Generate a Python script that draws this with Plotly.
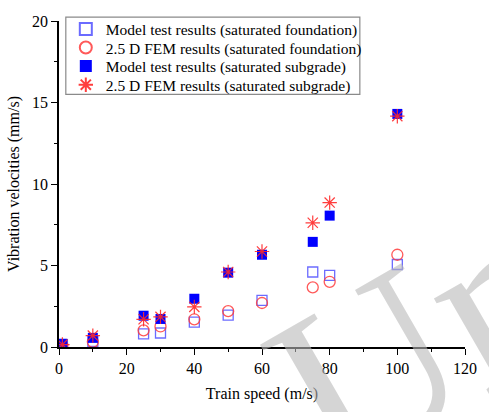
import plotly.graph_objects as go

speed = [1, 10, 25, 30, 40, 50, 60, 75, 80, 100]
model_found = [0.15, 0.35, 0.8, 0.86, 1.52, 1.96, 2.86, 4.6, 4.4, 5.06]
fem_found = [0.1, 0.32, 1.02, 1.26, 1.7, 2.2, 2.7, 3.66, 4.0, 5.66]
model_sub = [0.2, 0.56, 1.92, 1.72, 2.96, 4.56, 5.66, 6.45, 8.06, 14.3]
fem_sub = [0.15, 0.7, 1.7, 1.85, 2.46, 4.6, 5.86, 7.62, 8.86, 14.16]

names = ["Model test results (saturated foundation)",
         "2.5 D FEM results (saturated foundation)",
         "Model test results (saturated subgrade)",
         "2.5 D FEM results (saturated subgrade)"]

FONT = "Liberation Serif"

fig = go.Figure()
fig.add_trace(go.Scatter(x=speed, y=model_found, mode="markers", name=names[0], legend="legend",
                         marker=dict(symbol="square-open", size=10, color="rgba(70,70,255,0.8)",
                                     line=dict(width=1.3))))
fig.add_trace(go.Scatter(x=speed, y=fem_found, mode="markers", name=names[1], legend="legend2",
                         marker=dict(symbol="circle-open", size=11, color="rgba(255,60,60,0.85)",
                                     line=dict(width=1.3))))
fig.add_trace(go.Scatter(x=speed, y=model_sub, mode="markers", name=names[2], legend="legend3",
                         marker=dict(symbol="square", size=10, color="#0000ff")))
fig.add_trace(go.Scatter(x=speed, y=fem_sub, mode="markers", name=names[3], legend="legend4",
                         marker=dict(symbol="asterisk-open", size=12, color="rgba(255,40,40,0.9)",
                                     line=dict(width=1.2, color="rgba(255,40,40,0.9)"))))

# watermark
fig.add_annotation(text="Un", x=0.98, y=-0.12, xref="paper", yref="paper",
                   xanchor="right", yanchor="bottom", showarrow=False, textangle=-30,
                   xshift=160, yshift=-145,
                   font=dict(family=FONT, size=240, color="rgba(185,185,185,0.6)"))

axis_common = dict(showline=True, linecolor="black", linewidth=1.5, ticks="outside",
                   ticklen=6, tickwidth=1.3, tickcolor="black", showgrid=False, zeroline=False,
                   tickfont=dict(family=FONT, size=16, color="black"),
                   mirror=False)

fig.update_xaxes(range=[0, 120], tick0=0, dtick=20,
                 minor=dict(ticks="outside", ticklen=3, tickwidth=1.2, tickcolor="black", dtick=10, tick0=0),
                 title=dict(text="Train speed (m/s)", font=dict(family=FONT, size=16, color="black"),
                            standoff=12),
                 **axis_common)
fig.update_yaxes(range=[0, 20], tick0=0, dtick=5,
                 minor=dict(ticks="outside", ticklen=3, tickwidth=1.2, tickcolor="black", dtick=2.5, tick0=0),
                 title=dict(text="Vibration velocities (mm/s)", font=dict(family=FONT, size=16, color="black"),
                            standoff=8),
                 **axis_common)

PLOT_TOP, PLOT_H, PLOT_L, PLOT_W = 16, 333, 59, 417
def py(pix):
    return 1 - (pix - PLOT_TOP) / PLOT_H
def px(pix):
    return (pix - PLOT_L) / PLOT_W

leg_font = dict(family=FONT, size=15.5, color="black")
row_pix = [24.5, 43.5, 62.5, 81.5]
legends = {}
for i, key in enumerate(["legend", "legend2", "legend3", "legend4"]):
    legends[key] = dict(x=px(66), y=py(row_pix[i]), xanchor="left", yanchor="middle",
                        bgcolor="rgba(0,0,0,0)", borderwidth=0, font=leg_font,
                        itemsizing="constant")

fig.add_shape(type="rect", xref="paper", yref="paper",
              x0=px(66), x1=px(368), y0=py(91), y1=py(12),
              line=dict(color="#8a8a8a", width=1.2), fillcolor="rgba(0,0,0,0)")

fig.update_layout(
    width=489, height=412,
    margin=dict(l=59, r=13, t=16, b=63),
    plot_bgcolor="white", paper_bgcolor="white",
    font=dict(family=FONT, size=15, color="black"),
    showlegend=True,
    **legends,
)

fig.write_html("out.html")
